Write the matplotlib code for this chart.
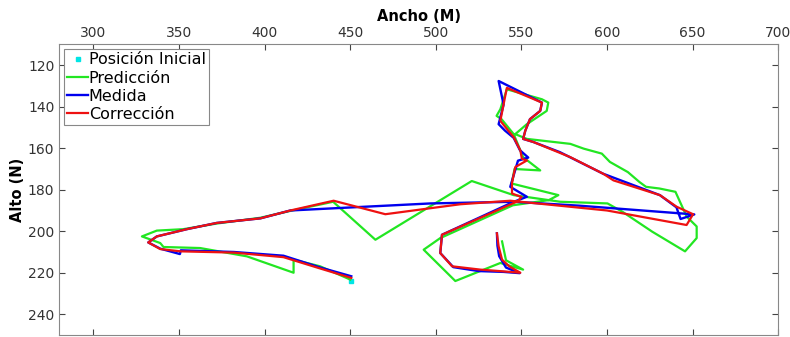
import matplotlib.pyplot as plt

# Posición inicial
x0 = [450.5]
y0 = [223.8]

# Medida (azul)
med_x = [450.6, 432.6, 411.0, 382.0, 351.0, 350.5, 339.0, 332.0, 337.0, 354.6, 372.0, 397.5,
         415.0, 497.0, 545.5, 584.0, 651.0, 643.0, 640.6, 630.9, 597.8, 572.5, 557.0, 551.0,
         552.3, 555.0, 561.0, 562.0, 536.7, 539.6, 536.7, 540.4, 545.5, 549.2, 554.0, 548.0,
         543.5, 553.2, 545.0, 503.6, 502.6, 510.2, 525.0, 539.6, 549.0, 541.0, 537.0, 536.0, 535.7]
med_y = [221.7, 217.5, 211.8, 210.0, 209.2, 211.0, 208.4, 205.4, 202.5, 199.0, 196.0, 193.8,
         190.0, 186.6, 185.8, 187.7, 191.9, 194.1, 188.5, 182.6, 172.3, 161.9, 157.0, 155.5,
         151.5, 146.0, 142.0, 138.0, 127.6, 139.0, 148.4, 151.5, 155.0, 161.0, 164.5, 166.0,
         178.6, 183.4, 186.0, 201.7, 210.5, 217.3, 219.2, 219.6, 220.2, 217.5, 212.0, 207.0, 201.0]

# Corrección (rojo)
cor_x = [450.6, 432.6, 411.0, 382.0, 351.0, 339.0, 332.0, 337.0, 354.6, 372.0, 397.5, 415.0,
         440.3, 470.5, 514.3, 543.5, 600.0, 646.5, 650.3, 640.7, 630.9, 603.8, 597.8, 578.6,
         557.0, 551.0, 552.3, 555.0, 561.0, 562.0, 541.5, 539.6, 537.7, 545.5, 549.4, 550.3,
         553.2, 546.4, 544.5, 544.5, 550.0, 548.0, 503.6, 502.6, 509.5, 526.0, 538.7, 549.4,
         543.0, 538.7, 536.7, 535.7]
cor_y = [222.5, 218.0, 212.5, 210.3, 209.7, 208.6, 205.4, 202.5, 199.0, 196.0, 193.8, 190.0,
         185.3, 191.8, 187.0, 185.3, 190.0, 197.0, 191.8, 188.2, 182.6, 175.5, 172.3, 164.3,
         157.0, 155.5, 151.5, 146.0, 142.0, 138.0, 130.9, 138.8, 146.8, 154.7, 161.1, 165.1,
         165.9, 169.1, 176.8, 181.8, 183.5, 185.5, 201.7, 210.5, 216.9, 218.5, 219.3, 220.0,
         217.0, 213.7, 207.3, 201.0]

# Predicción (verde)
pre_x = [450.0, 432.4, 416.9, 416.9, 389.6, 362.3, 340.9, 339.0, 328.3, 337.0, 352.5, 372.0,
         397.5, 415.0, 440.0, 464.7, 521.0, 545.5, 572.7, 600.3, 609.0, 626.4, 645.6, 652.4,
         652.4, 646.6, 640.0, 630.6, 622.8, 619.0, 612.2, 601.7, 597.0, 586.4, 578.6, 553.2,
         546.4, 553.2, 564.8, 565.7, 562.0, 541.5, 537.7, 535.5, 538.4, 545.5, 551.0, 561.0,
         546.0, 544.3, 571.6, 566.0, 545.0, 502.6, 492.9, 511.4, 537.7, 551.0, 541.0, 538.7]
pre_y = [223.3, 216.9, 213.7, 220.0, 212.1, 208.1, 207.6, 205.7, 202.5, 199.7, 199.0, 196.3,
         193.5, 190.2, 185.8, 204.1, 175.8, 182.6, 185.8, 186.6, 190.6, 200.2, 209.7, 203.3,
         197.7, 193.0, 181.0, 179.4, 178.6, 176.3, 171.5, 166.6, 162.6, 160.2, 157.9, 155.5,
         153.2, 148.4, 142.0, 138.0, 136.4, 131.6, 141.2, 144.4, 146.0, 153.2, 164.3, 170.7,
         170.0, 177.0, 182.6, 185.0, 187.5, 203.3, 208.9, 224.0, 215.3, 218.5, 214.0, 204.9]

fig, ax = plt.subplots(figsize=(7.9, 3.37), dpi=100)
fig.subplots_adjust(left=0.075, right=0.985, top=0.868, bottom=0.006)

ax.plot(x0, y0, 's', color='#00e5e5', markersize=3, label='Posición Inicial')
ax.plot(pre_x, pre_y, color='#22e622', lw=1.6, label='Predicción')
ax.plot(med_x, med_y, color='#0000ee', lw=1.7, label='Medida')
ax.plot(cor_x, cor_y, color='#ee1111', lw=1.6, label='Corrección')

ax.set_xlim(280, 700)
ax.set_ylim(250, 110)
ax.set_xticks(range(300, 701, 50))
ax.set_yticks(range(120, 241, 20))
ax.xaxis.tick_top()
ax.xaxis.set_label_position('top')
ax.tick_params(direction='in', top=True, bottom=True, left=True, right=True,
               labelsize=10, colors='#444444', labelcolor='#333333', length=4)
for s in ax.spines.values():
    s.set_color('#888888')
ax.set_xlabel('Ancho (M)', fontweight='bold', fontsize=10.5, labelpad=3)
ax.set_ylabel('Alto (N)', fontweight='bold', fontsize=10.5, labelpad=2)

leg = ax.legend(loc='upper left', fontsize=11.5, handlelength=1.3, handletextpad=0.05,
                borderpad=0.2, labelspacing=0.2, fancybox=False, borderaxespad=0.3,
                framealpha=1, markerscale=0.9)
leg.get_frame().set_edgecolor('#888888')
leg.get_frame().set_linewidth(0.8)

plt.savefig('out.png', dpi=100)
